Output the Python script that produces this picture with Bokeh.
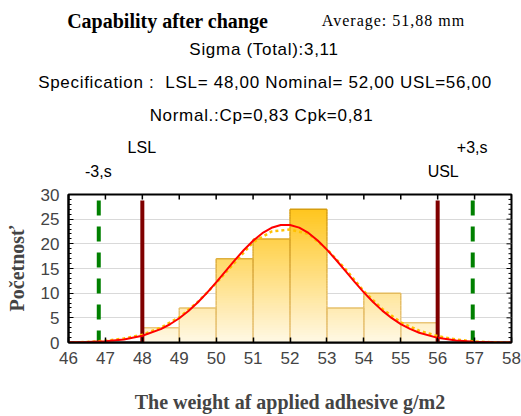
from bokeh.plotting import figure
from bokeh.models import Range1d, FixedTicker, Div
from bokeh.layouts import column
from bokeh.embed import file_html
from bokeh.resources import INLINE

# ---------------- data ----------------
bin_edges = [48, 49, 50, 51, 52, 53, 54, 55, 56]
counts = [3, 7, 17, 21, 27, 7, 10, 4]

normal_x = [46, 46.5, 47, 47.5, 48, 48.5, 48.75, 49, 49.25, 49.5, 49.75,
            50, 50.25, 50.5, 50.75, 51, 51.25, 51.5, 51.75, 52, 52.25, 52.5, 52.75,
            53, 53.25, 53.5, 53.75, 54, 54.25, 54.5, 54.75, 55, 55.25, 55.5,
            56, 56.5, 57, 57.5, 58]
normal_y = [0.03, 0.10, 0.26, 0.62, 1.36, 2.71, 3.70, 4.92, 6.40, 8.12, 10.07,
            12.19, 14.41, 16.63, 18.75, 20.62, 22.16, 23.25, 23.82, 23.83, 23.28, 22.21, 20.69,
            18.82, 16.72, 14.50, 12.28, 10.16, 8.20, 6.46, 4.98, 3.74, 2.75, 1.97,
            0.94, 0.41, 0.16, 0.06, 0.02]

fit_x = [46, 46.5, 47, 47.5, 48, 48.5, 49, 49.5, 50, 50.5, 51, 51.5, 52,
         52.5, 53, 53.5, 54, 54.5, 55, 55.5, 56, 56.5, 57, 57.5, 58]
fit_y = [0.0, 0.1, 0.35, 0.8, 1.6, 3.0, 5.1, 8.2, 12.0, 16.2, 20.3, 22.5, 22.9,
         22.0, 18.9, 14.9, 10.4, 6.8, 4.1, 2.4, 1.3, 0.6, 0.2, 0.05, 0.0]

spec_limits = [48.0, 56.0]          # LSL, USL
spec_names = ["LSL", "USL"]
sigma_limits = [46.82, 56.95]       # -3s, +3s
sigma_names = ["-3,s", "+3,s"]
limit_top = 28.8

x_ticks = list(range(46, 59))
y_ticks = [0, 5, 10, 15, 20, 25, 30]
y_minor = list(range(0, 31))
grid_ticks = [5, 10, 15, 20, 25]

title_text = "Capability after change"
average_text = "Average: 51,88 mm"
sigma_text = "Sigma (Total):3,11"
spec_text = "Specification :  LSL= 48,00 Nominal= 52,00 USL=56,00"
cp_text = "Normal.:Cp=0,83 Cpk=0,81"

# ---------------- layout constants ----------------
W = 521
HEAD_H = 187
MAIN_H = 228
BORDER_L = 68
BORDER_R = 10
BORDER_T = 7
BORDER_B = 73
X0, X1 = 46, 58
Y0, Y1 = 0, 30
FRAME_W = W - BORDER_L - BORDER_R
FRAME_H = MAIN_H - BORDER_T - BORDER_B

SANS = "Liberation Sans"
SERIF = "Liberation Serif"

FILL_TOP = (255, 192, 8)
FILL_BOT = (255, 248, 229)
EDGE_TOP = (212, 152, 0)
EDGE_BOT = (236, 204, 140)


def lerp_color(c_top, c_bot, y):
    t = max(0.0, min(1.0, y / 30.0))
    r = [round(b + (a - b) * t) for a, b in zip(c_top, c_bot)]
    return "#%02x%02x%02x" % tuple(r)


def data_to_px(xv):
    return BORDER_L + (xv - X0) * FRAME_W / (X1 - X0)


# ---------------- header (HTML text) ----------------
def span(txt, x, y, font, size, weight="normal", spacing="0px"):
    return ('<span style="position:absolute;left:%.1fpx;top:%.1fpx;'
            'transform:translate(-50%%,-50%%);white-space:pre;line-height:1;'
            'font-family:\'%s\';font-size:%s;font-weight:%s;letter-spacing:%s;color:#000;">%s</span>'
            % (x, y, font, size, weight, spacing, txt))


parts = [
    span(title_text, 167.5, 21, SERIF, "20px", "bold"),
    span(average_text, 393.5, 21, SERIF, "16px", "normal", "1px"),
    span(sigma_text, 264, 49, SANS, "17px", "normal", "0.7px"),
    span(spec_text, 265, 82, SANS, "17px", "normal", "0.7px"),
    span(cp_text, 261.5, 115, SANS, "17px", "normal", "0.7px"),
    span(spec_names[0], data_to_px(spec_limits[0]), 148, SANS, "16px"),
    span(sigma_names[1], data_to_px(sigma_limits[1]), 148, SANS, "16px"),
    span(sigma_names[0], data_to_px(sigma_limits[0]), 172, SANS, "16px"),
    span(spec_names[1], data_to_px(spec_limits[1]) + 6, 172, SANS, "16px"),
]
header_html = ('<div style="position:relative;width:%dpx;height:%dpx;overflow:hidden;">%s</div>'
               % (W, HEAD_H, "".join(parts)))
head = Div(text=header_html, width=W, height=HEAD_H, margin=(0, 0, 0, 0))

# ---------------- main figure ----------------
p = figure(width=W, height=MAIN_H, x_range=Range1d(X0, X1), y_range=Range1d(Y0, Y1),
           output_backend="svg", toolbar_location=None,
           min_border_left=BORDER_L, min_border_right=BORDER_R,
           min_border_top=BORDER_T, min_border_bottom=BORDER_B)
p.background_fill_color = "white"
p.border_fill_color = "white"
p.outline_line_color = "black"
p.outline_line_width = 2

p.xgrid.visible = False
p.ygrid.ticker = FixedTicker(ticks=grid_ticks)
p.ygrid.grid_line_color = "#d9d9d9"
p.ygrid.grid_line_width = 1

xa = p.xaxis[0]
xa.ticker = FixedTicker(ticks=x_ticks)
xa.major_tick_in = 5
xa.major_tick_out = 0
xa.minor_tick_line_color = None
xa.axis_line_width = 2
xa.major_tick_line_width = 1.5
xa.major_label_text_font = SANS
xa.major_label_text_font_size = "17px"
xa.major_label_standoff = 9
xa.axis_label = "The weight af applied adhesive g/m2"
xa.axis_label_text_font = SERIF
xa.axis_label_text_font_style = "bold"
xa.axis_label_text_font_size = "20px"
xa.axis_label_standoff = 24

ya = p.yaxis[0]
ya.ticker = FixedTicker(ticks=y_ticks, minor_ticks=y_minor)
ya.major_tick_in = 5
ya.major_tick_out = 0
ya.minor_tick_in = 3
ya.minor_tick_out = 0
ya.axis_line_width = 2
ya.major_label_text_font = SANS
ya.major_label_text_font_size = "17px"
ya.major_label_standoff = 9
ya.axis_label = "Početnosť"
ya.axis_label_text_font = SERIF
ya.axis_label_text_font_style = "bold"
ya.axis_label_text_font_size = "20px"
ya.axis_label_standoff = 10

# ---------------- histogram with vertical gradient ----------------
strip = 0.5
ql, qr, qt, qc = [], [], [], []
sx0, sy0, sy1, sc = [], [], [], []
tl, tr, th, tc = [], [], [], []
for i, hgt in enumerate(counts):
    left, right = bin_edges[i], bin_edges[i + 1]
    y = 0.0
    while y < hgt - 1e-9:
        y1 = min(y + strip, hgt)
        mid = (y + y1) / 2
        ql.append(left); qr.append(right); qt.append(y1)
        qc.append(lerp_color(FILL_TOP, FILL_BOT, mid))
        for xe in (left, right):
            sx0.append(xe); sy0.append(y); sy1.append(y1)
            sc.append(lerp_color(EDGE_TOP, EDGE_BOT, mid))
        y = y1
    tl.append(left); tr.append(right); th.append(hgt)
    tc.append(lerp_color(EDGE_TOP, EDGE_BOT, hgt))

order = sorted(range(len(qt)), key=lambda k: -qt[k])
p.quad(left=[ql[k] for k in order], right=[qr[k] for k in order],
       bottom=[0] * len(order), top=[qt[k] for k in order],
       fill_color=[qc[k] for k in order], line_color=None)
p.segment(x0=sx0, y0=sy0, x1=sx0, y1=sy1, line_color=sc, line_width=1.5)
p.segment(x0=tl, y0=th, x1=tr, y1=th, line_color=tc, line_width=1.5)

# ---------------- inner ticks on top and right edges ----------------
px_per_x = FRAME_W / (X1 - X0)
px_per_y = FRAME_H / (Y1 - Y0)
major_len, minor_len = 5, 3
p.segment(x0=x_ticks, y0=[Y1] * len(x_ticks), x1=x_ticks,
          y1=[Y1 - major_len / px_per_y] * len(x_ticks), line_color="black", line_width=1.5)
p.segment(x0=[X1] * len(y_minor), y0=y_minor,
          x1=[X1 - (major_len if v in y_ticks else minor_len) / px_per_x for v in y_minor],
          y1=y_minor, line_color="black", line_width=1)

# ---------------- limit lines ----------------
for xv in spec_limits:
    p.segment(x0=[xv], y0=[limit_top], x1=[xv], y1=[0], line_color="#800000", line_width=4)
for xv in sigma_limits:
    p.segment(x0=[xv], y0=[limit_top], x1=[xv], y1=[0], line_color="#008000", line_width=4,
              line_dash="15 11")

# ---------------- curves ----------------
p.line(fit_x, fit_y, line_color="#ffc000", line_width=2.5, line_dash="3 3")
p.line(normal_x, normal_y, line_color="#ff0000", line_width=2)

layout = column(head, p, spacing=0)
open("out.html", "w").write(file_html(layout, INLINE))
